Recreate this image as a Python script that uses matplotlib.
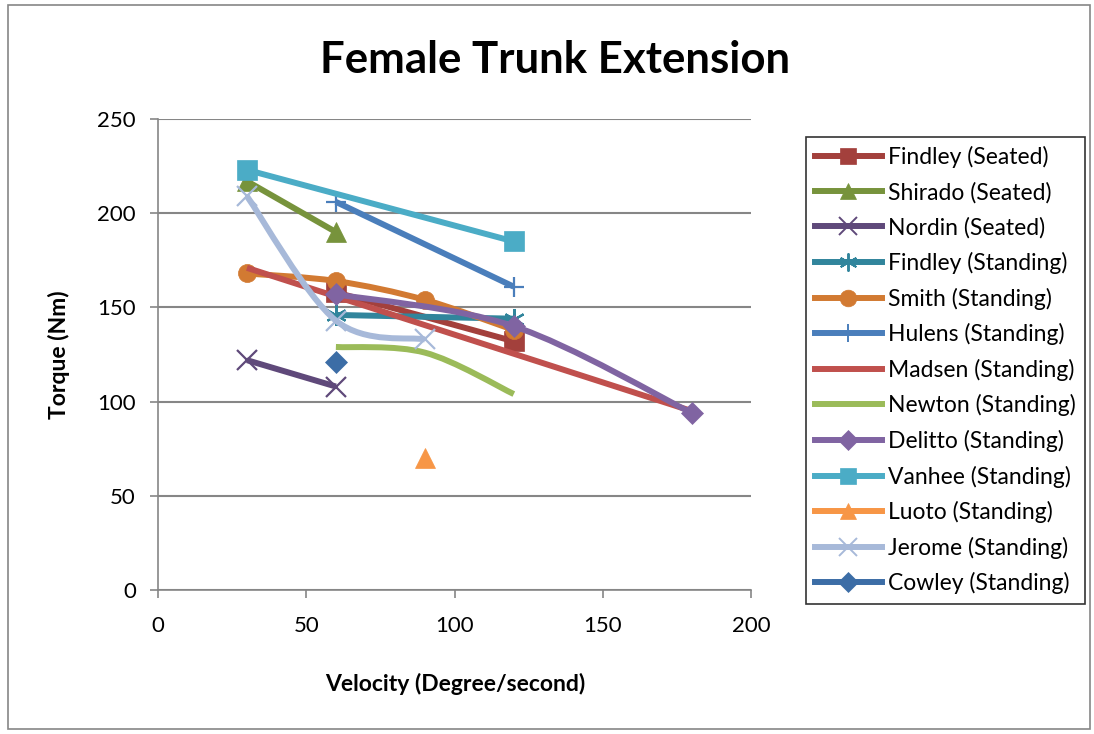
import matplotlib
matplotlib.use("Agg")
import matplotlib.pyplot as plt
from matplotlib.path import Path
from matplotlib.patches import PathPatch, Rectangle
from matplotlib.lines import Line2D

plt.rcParams["font.family"] = ["Lato", "DejaVu Sans"]

names = [
    "Findley (Seated)", "Shirado (Seated)", "Nordin (Seated)",
    "Findley (Standing)", "Smith (Standing)", "Hulens (Standing)",
    "Madsen (Standing)", "Newton (Standing)", "Delitto (Standing)",
    "Vanhee (Standing)", "Luoto (Standing)", "Jerome (Standing)",
    "Cowley (Standing)",
]
velocity = [
    [60, 120], [30, 60], [30, 60],
    [60, 120], [30, 60, 90, 120], [60, 120],
    [30, 180], [60, 90, 120], [60, 120, 180],
    [30, 120], [90], [30, 60, 90],
    [60],
]
torque = [
    [158, 132], [217, 190], [122, 108],
    [146, 144], [168, 164, 154, 138], [206, 161],
    [171, 95], [129, 126, 104], [157, 140, 94],
    [223, 185], [70], [209, 143, 133],
    [121],
]
colors = [
    "#A3403C", "#77933C", "#5F497A",
    "#31859C", "#D27A32", "#4A7EBB",
    "#C0504D", "#9BBB59", "#8064A2",
    "#4BACC6", "#F79646", "#A7B9D9",
    "#3C6DA6",
]
markers = ["s", "^", "x", (6, 2, 0), "o", "+", None, None, "D", "s", "^", "x", "D"]


def smooth_path(xs, ys):
    # Excel-style smoothed line as cubic bezier segments
    pts = list(zip(xs, ys))
    verts = [pts[0]]
    codes = [Path.MOVETO]
    n = len(pts)
    for i in range(n - 1):
        p0 = pts[i - 1] if i > 0 else pts[i]
        p1 = pts[i]
        p2 = pts[i + 1]
        p3 = pts[i + 2] if i + 2 < n else pts[i + 1]
        c1 = (p1[0] + (p2[0] - p0[0]) / 6, p1[1] + (p2[1] - p0[1]) / 6)
        c2 = (p2[0] - (p3[0] - p1[0]) / 6, p2[1] - (p3[1] - p1[1]) / 6)
        verts += [c1, c2, p2]
        codes += [Path.CURVE4] * 3
    return Path(verts, codes)


def marker_style(m, legend=False):
    thin = m in ("x", "+") or isinstance(m, tuple)
    if thin:
        size = 13 if legend else 15
        mew = 1.4 if legend else 1.6
    elif m == "D":
        size = 10 if legend else 11
        mew = 0.5
    elif m == "o":
        size = 12 if legend else 13
        mew = 0.5
    else:
        size = 12 if legend else 14
        mew = 0.5
    return size, mew


fig = plt.figure(figsize=(10.94, 7.34), dpi=100)
ax = fig.add_axes([158 / 1094, 144 / 734, 593 / 1094, 471 / 734])

handles = []
for i, name in enumerate(names):
    xs, ys, c, m = velocity[i], torque[i], colors[i], markers[i]
    if len(xs) > 1:
        ax.add_patch(PathPatch(smooth_path(xs, ys), fill=False, edgecolor=c,
                               lw=4.3, capstyle="butt", joinstyle="round",
                               zorder=3 + i))
    if m is not None:
        size, mew = marker_style(m)
        ax.plot(xs, ys, linestyle="none", marker=m, color=c, markersize=size,
                markeredgewidth=mew, markeredgecolor=c, zorder=3 + i)
        size, mew = marker_style(m, legend=True)
    else:
        size, mew = 0, 0
    handles.append(Line2D([0], [0], color=c, lw=4.3, marker=m,
                          markersize=size, markeredgewidth=mew,
                          markeredgecolor=c))

ax.set_xlim(0, 200)
ax.set_ylim(0, 250)
ax.set_xticks(range(0, 201, 50))
ax.set_yticks(range(0, 251, 50))
ax.yaxis.grid(True, color="#868686", lw=1.5)
ax.set_axisbelow(True)
for s in ["top", "right"]:
    ax.spines[s].set_visible(False)
for s in ["left", "bottom"]:
    ax.spines[s].set_color("#868686")
    ax.spines[s].set_linewidth(1.2)
ax.tick_params(axis="both", labelsize=16, color="#868686", length=6, width=1.2)
ax.tick_params(axis="x", pad=13)
ax.tick_params(axis="y", pad=10)

ax.set_xlabel("Velocity (Degree/second)", fontsize=16.5, fontweight="bold")
ax.set_ylabel("Torque (Nm)", fontsize=16.5, fontweight="bold")
ax.xaxis.set_label_coords(297 / 593, -83 / 471)
ax.yaxis.set_label_coords(-88 / 593, 0.5)
fig.text(555 / 1094, 1 - 60 / 734, "Female Trunk Extension", fontsize=31.5,
         fontweight="bold", ha="center", va="center")

leg = fig.legend(handles, names, loc="upper left",
                 bbox_to_anchor=(806 / 1094, 1 - 137 / 734),
                 fontsize=16.5, handlelength=2.9, labelspacing=0.59,
                 borderpad=0.4, handletextpad=0.3, frameon=True,
                 fancybox=False, edgecolor="black", borderaxespad=0)
leg.get_frame().set_linewidth(1.2)

fig.patches.append(Rectangle((8 / 1094, 5 / 734), 1082 / 1094, 724 / 734,
                             transform=fig.transFigure, fill=False,
                             edgecolor="#868686", lw=1.2))

fig.savefig("out.png", dpi=100)
